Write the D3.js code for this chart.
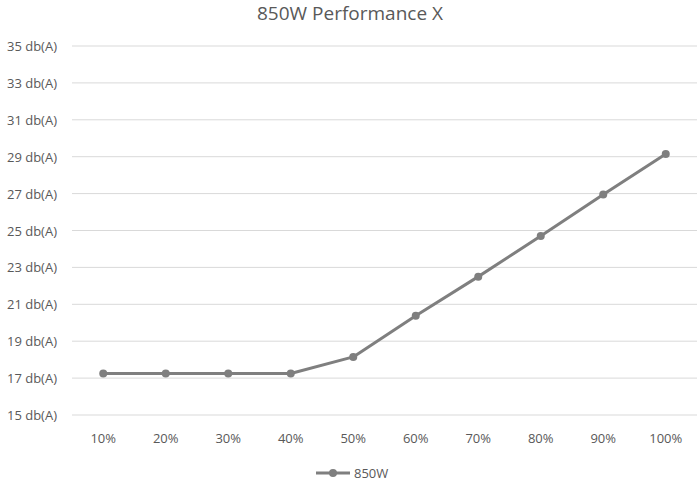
<!DOCTYPE html>
<html><head><meta charset="utf-8">
<script src="https://cdn.jsdelivr.net/npm/d3@7"></script>
<style>body{margin:0;background:#fff}text{font-family:"Open Sans",sans-serif}</style>
</head><body><svg width="700" height="481"></svg>
<script>
let categories = ['10%','20%','30%','40%','50%','60%','70%','80%','90%','100%'];
let noise = [17.25, 17.25, 17.25, 17.25, 18.15, 20.38, 22.5, 24.7, 26.95, 29.15];
let yTicks = [15,17,19,21,23,25,27,29,31,33,35];

let svg = d3.select('svg');
let x = d3.scaleBand().domain(categories).range([72, 697]);
let y = d3.scaleLinear().domain([15, 35]).range([415, 46]);

svg.append('text').attr('x', 350).attr('y', 20).attr('text-anchor', 'middle')
  .attr('font-size', 19).attr('fill', '#595959').text('850W Performance X');

svg.append('g').selectAll('line').data(yTicks).enter().append('line')
  .attr('x1', 72).attr('x2', 697)
  .attr('y1', d => y(d)).attr('y2', d => y(d))
  .attr('stroke', '#d9d9d9').attr('stroke-width', 1);

svg.append('g').selectAll('text').data(yTicks).enter().append('text')
  .attr('x', 57).attr('y', d => y(d) + 5).attr('text-anchor', 'end')
  .attr('font-size', 13).attr('fill', '#595959').text(d => d + ' db(A)');

svg.append('g').selectAll('text').data(categories).enter().append('text')
  .attr('x', d => x(d) + x.bandwidth() / 2).attr('y', 443).attr('text-anchor', 'middle')
  .attr('font-size', 13).attr('fill', '#595959').text(d => d);

let line = d3.line().x((d, i) => x(categories[i]) + x.bandwidth() / 2).y(d => y(d));
svg.append('path').datum(noise).attr('d', line).attr('fill', 'none')
  .attr('stroke', '#7f7f7f').attr('stroke-width', 3).attr('stroke-linejoin', 'round');
svg.append('g').selectAll('circle').data(noise).enter().append('circle')
  .attr('cx', (d, i) => x(categories[i]) + x.bandwidth() / 2).attr('cy', d => y(d))
  .attr('r', 4).attr('fill', '#7f7f7f');

let lg = svg.append('g');
lg.append('line').attr('x1', 316).attr('x2', 350).attr('y1', 473).attr('y2', 473)
  .attr('stroke', '#7f7f7f').attr('stroke-width', 3);
lg.append('circle').attr('cx', 333).attr('cy', 473).attr('r', 4).attr('fill', '#7f7f7f');
lg.append('text').attr('x', 354).attr('y', 478).attr('font-size', 13)
  .attr('fill', '#595959').text('850W');
</script></body></html>
